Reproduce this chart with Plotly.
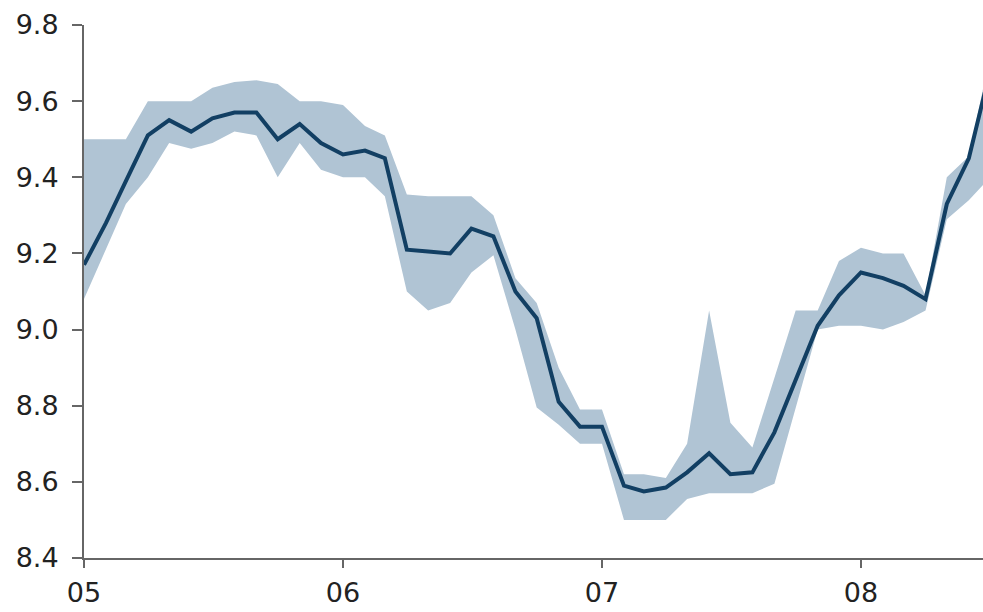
import plotly.graph_objects as go
import pandas as pd

# Monthly observations, Jan 2005 .. Jul 2008
months = pd.date_range("2005-01-01", periods=43, freq="MS").strftime("%Y-%m-%d").tolist()

central = [9.17, 9.28, 9.39, 9.51, 9.55, 9.52, 9.555, 9.57, 9.57, 9.50, 9.54, 9.49,
           9.46, 9.47, 9.45, 9.21, 9.205, 9.20, 9.265, 9.245, 9.10, 9.03, 8.81, 8.745,
           8.745, 8.59, 8.575, 8.585, 8.625, 8.675, 8.62, 8.625, 8.73, 8.865, 9.01, 9.09,
           9.15, 9.135, 9.115, 9.08, 9.33, 9.45, 9.68]

band_high = [9.50, 9.50, 9.50, 9.60, 9.60, 9.60, 9.635, 9.65, 9.655, 9.645, 9.60, 9.60,
             9.59, 9.535, 9.51, 9.355, 9.35, 9.35, 9.35, 9.30, 9.135, 9.07, 8.90, 8.79,
             8.79, 8.62, 8.62, 8.61, 8.70, 9.05, 8.755, 8.69, 8.87, 9.05, 9.05, 9.18,
             9.215, 9.20, 9.20, 9.09, 9.40, 9.455, 9.72]

band_low = [9.08, 9.21, 9.33, 9.40, 9.49, 9.475, 9.49, 9.52, 9.51, 9.40, 9.49, 9.42,
            9.40, 9.40, 9.35, 9.10, 9.05, 9.07, 9.15, 9.195, 9.00, 8.795, 8.75, 8.70,
            8.70, 8.50, 8.50, 8.50, 8.555, 8.57, 8.57, 8.57, 8.595, 8.795, 9.00, 9.01,
            9.01, 9.00, 9.02, 9.05, 9.29, 9.34, 9.40]

y_ticks = [8.4, 8.6, 8.8, 9.0, 9.2, 9.4, 9.6, 9.8]
x_tickvals = ["2005-01-01", "2006-01-01", "2007-01-01", "2008-01-01"]
x_ticktext = ["05", "06", "07", "08"]

band_color = "#b0c4d4"
line_color = "#123f63"
axis_color = "#666666"
text_color = "#222222"
font_family = "DejaVu Sans"

fig = go.Figure()
fig.add_trace(go.Scatter(x=months, y=band_low, mode="lines",
                         line=dict(width=0, color=band_color),
                         hoverinfo="skip", showlegend=False))
fig.add_trace(go.Scatter(x=months, y=band_high, mode="lines",
                         line=dict(width=0, color=band_color),
                         fill="tonexty", fillcolor=band_color,
                         hoverinfo="skip", showlegend=False))
fig.add_trace(go.Scatter(x=months, y=central, mode="lines",
                         line=dict(width=4, color=line_color),
                         showlegend=False))

fig.update_layout(
    width=983, height=612,
    margin=dict(l=84, r=0, t=25, b=54),
    paper_bgcolor="white", plot_bgcolor="white",
    font=dict(family=font_family, size=27, color=text_color),
    showlegend=False,
)
fig.update_xaxes(
    type="date",
    range=["2005-01-01", "2008-06-21"],
    tickmode="array", tickvals=x_tickvals, ticktext=x_ticktext,
    showgrid=False, zeroline=False, automargin=False,
    showline=True, linecolor=axis_color, linewidth=2,
    ticks="outside", ticklen=8, tickwidth=2, tickcolor=axis_color,
    ticklabelstandoff=2,
    tickfont=dict(family=font_family, size=27, color=text_color),
)
fig.update_yaxes(
    range=[8.4, 9.8],
    tickmode="array", tickvals=y_ticks,
    tickformat=".1f",
    showgrid=False, zeroline=False, automargin=False,
    showline=True, linecolor=axis_color, linewidth=2,
    ticks="outside", ticklen=10, tickwidth=2, tickcolor=axis_color,
    ticklabelstandoff=8,
    tickfont=dict(family=font_family, size=27, color=text_color),
)

fig.write_html(
    "out.html",
    config={"displayModeBar": False},
    post_script="document.body.style.margin='0';document.body.style.overflow='hidden';",
)
